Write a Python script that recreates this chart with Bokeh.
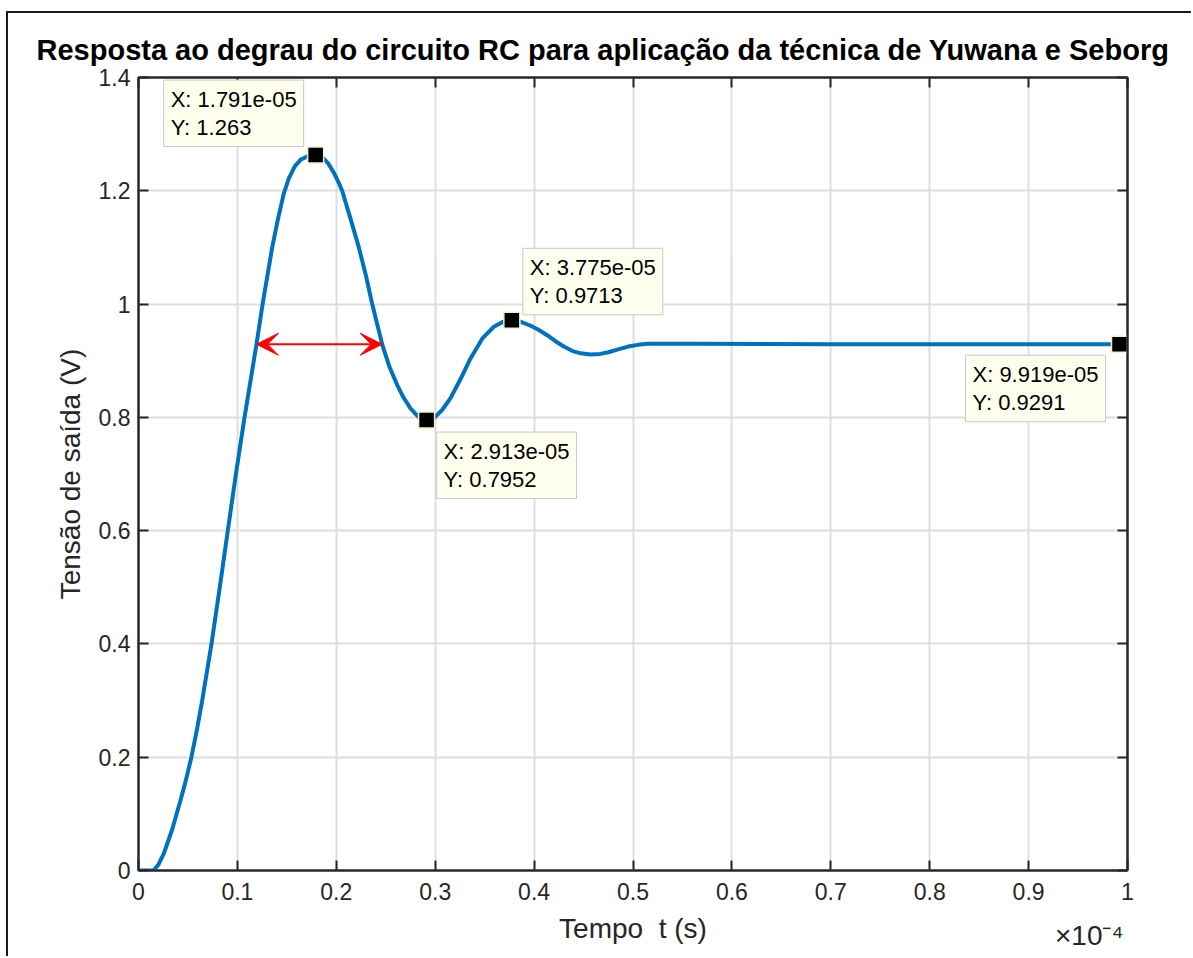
from bokeh.plotting import figure
from bokeh.models import (Label, Arrow, VeeHead, LinearAxis, FixedTicker, Range1d, Title)
from bokeh.embed import file_html
from bokeh.resources import INLINE

# ---- data (time in units of 1e-4 s) ----
t_e4 = [0.000, 0.015, 0.020, 0.0256, 0.0340, 0.0425, 0.0480, 0.0535, 0.0590, 0.0644,
        0.0738, 0.0822, 0.0903, 0.0985, 0.1072, 0.1193, 0.1255, 0.1352, 0.1410, 0.1469,
        0.1520, 0.1580, 0.1640, 0.1710, 0.1791, 0.1860, 0.1920, 0.1975, 0.2030, 0.2059,
        0.2145, 0.2228, 0.2300, 0.2363, 0.2464, 0.2540, 0.2616, 0.2680, 0.2750, 0.2830,
        0.2913, 0.2990, 0.3070, 0.3155, 0.3260, 0.3357, 0.3480, 0.3593, 0.3690, 0.3775,
        0.3860, 0.3950, 0.4040, 0.4132, 0.4220, 0.4300, 0.4390, 0.4470, 0.4570, 0.4670,
        0.4750, 0.4850, 0.4950, 0.5050, 0.5143, 0.5680, 0.7000, 0.8500, 0.9919]
v_out = [0.000, 0.000, 0.010, 0.030, 0.072, 0.124, 0.160, 0.200, 0.248, 0.300,
         0.400, 0.500, 0.600, 0.700, 0.800, 0.929, 1.000, 1.100, 1.150, 1.195,
         1.222, 1.243, 1.255, 1.261, 1.263, 1.259, 1.248, 1.232, 1.212, 1.200,
         1.150, 1.100, 1.050, 1.000, 0.929, 0.888, 0.857, 0.835, 0.816, 0.801,
         0.795, 0.799, 0.813, 0.834, 0.869, 0.904, 0.940, 0.960, 0.969, 0.971,
         0.969, 0.963, 0.955, 0.945, 0.934, 0.925, 0.917, 0.913, 0.911, 0.912,
         0.915, 0.920, 0.925, 0.928, 0.930, 0.930, 0.929, 0.929, 0.929]

tip_x = [0.1791, 0.3775, 0.2913, 0.9919]
tip_y = [1.263, 0.9713, 0.7952, 0.9291]
tip_text = ["X: 1.791e-05\nY: 1.263", "X: 3.775e-05\nY: 0.9713",
            "X: 2.913e-05\nY: 0.7952", "X: 9.919e-05\nY: 0.9291"]
tip_dx = [-152, 11, 10, -154]
tip_dy = [75, 72, -12, -11]

arrow_x = [0.1193, 0.2464]
arrow_y = 0.9291

x_ticks = [0, 0.1, 0.2, 0.3, 0.4, 0.5, 0.6, 0.7, 0.8, 0.9, 1]
x_labels = ["0", "0.1", "0.2", "0.3", "0.4", "0.5", "0.6", "0.7", "0.8", "0.9", "1"]
y_ticks = [0, 0.2, 0.4, 0.6, 0.8, 1, 1.2, 1.4]
y_labels = ["0", "0.2", "0.4", "0.6", "0.8", "1", "1.2", "1.4"]

TITLE = "Resposta ao degrau do circuito RC para aplicação da técnica de Yuwana e Seborg"
EXPONENT = "×10⁻⁴"
FONT = "Liberation Sans"
AX = "#262626"

p = figure(width=1185, height=945, output_backend="svg", toolbar_location=None,
           x_range=Range1d(0, 1), y_range=Range1d(0, 1.4),
           min_border_left=130, min_border_right=66, min_border_top=64, min_border_bottom=88,
           x_axis_label="Tempo\u00a0 t (s)", y_axis_label="Tensão de saída (V)")
p.styles = {"margin-left": "6px", "margin-top": "11px",
            "border-left": "2px solid #1a1a1a", "border-top": "2px solid #1a1a1a"}
p.outline_line_color = AX
p.outline_line_width = 2
p.background_fill_color = "white"
p.border_fill_color = "white"

p.title.text = TITLE
p.title.align = "left"
p.title.offset = -102
p.title.text_font = FONT
p.title.text_font_size = "29px"
p.title.text_font_style = "bold"
p.title.text_color = "black"
p.title.standoff = 24

for ax in [p.xaxis[0], p.yaxis[0]]:
    ax.axis_line_color = AX
    ax.axis_line_width = 2
    ax.major_tick_line_color = AX
    ax.major_tick_line_width = 2
    ax.major_tick_in = 10
    ax.major_tick_out = 0
    ax.minor_tick_line_color = None
    ax.major_label_text_font = FONT
    ax.major_label_text_font_size = "23px"
    ax.major_label_text_color = AX
    ax.axis_label_text_font = FONT
    ax.axis_label_text_font_size = "28px"
    ax.axis_label_text_font_style = "normal"
    ax.axis_label_text_color = AX

p.xaxis[0].ticker = FixedTicker(ticks=x_ticks)
p.xaxis[0].major_label_overrides = {t: l for t, l in zip(x_ticks, x_labels)}
p.xaxis[0].major_label_standoff = 12
p.xaxis[0].axis_label_standoff = 10
p.yaxis[0].ticker = FixedTicker(ticks=y_ticks)
p.yaxis[0].major_label_overrides = {t: l for t, l in zip(y_ticks, y_labels)}
p.yaxis[0].major_label_standoff = 8
p.yaxis[0].axis_label_standoff = 10

# box axes (top/right) with inward ticks
for loc, ticks in [("above", x_ticks), ("right", y_ticks)]:
    a = LinearAxis(ticker=FixedTicker(ticks=ticks))
    a.axis_line_color = AX
    a.axis_line_width = 2
    a.major_tick_line_color = AX
    a.major_tick_line_width = 2
    a.major_tick_in = 10
    a.major_tick_out = 0
    a.minor_tick_line_color = None
    a.major_label_text_font_size = "0px"
    a.major_label_text_alpha = 0
    a.major_label_standoff = 0
    p.add_layout(a, loc)

# exponent of the x axis, drawn as a title in the bottom panel
p.add_layout(Title(text=EXPONENT, align="right", offset=4, standoff=-54,
                   vertical_align="top",
                   text_font=FONT, text_font_size="28px", text_font_style="normal",
                   text_color=AX), "below")

p.xgrid.ticker = FixedTicker(ticks=x_ticks)
p.ygrid.ticker = FixedTicker(ticks=y_ticks)
p.grid.grid_line_color = "#dedede"
p.grid.grid_line_width = 2

p.line(t_e4, v_out, line_color="#0072BD", line_width=4, line_join="round")

p.add_layout(Arrow(x_start=arrow_x[0], y_start=arrow_y, x_end=arrow_x[1], y_end=arrow_y,
                   line_color="red", line_width=2,
                   start=VeeHead(size=22, fill_color="red", line_color="red"),
                   end=VeeHead(size=22, fill_color="red", line_color="red")))

p.scatter(tip_x, tip_y, marker="square", size=16, fill_color="black",
          line_color="#f2f0c8", line_width=1.5)

for x, y, txt, dx, dy in zip(tip_x, tip_y, tip_text, tip_dx, tip_dy):
    p.add_layout(Label(x=x, y=y, x_offset=dx, y_offset=dy, text=txt, anchor="top_left",
                       text_font=FONT, text_font_size="22px", text_color="black",
                       text_line_height=1.1, padding=7,
                       background_fill_color="#ffffee", border_line_color="#c8c8c8",
                       border_line_width=1))

open("out.html", "w").write(file_html(p, INLINE))
